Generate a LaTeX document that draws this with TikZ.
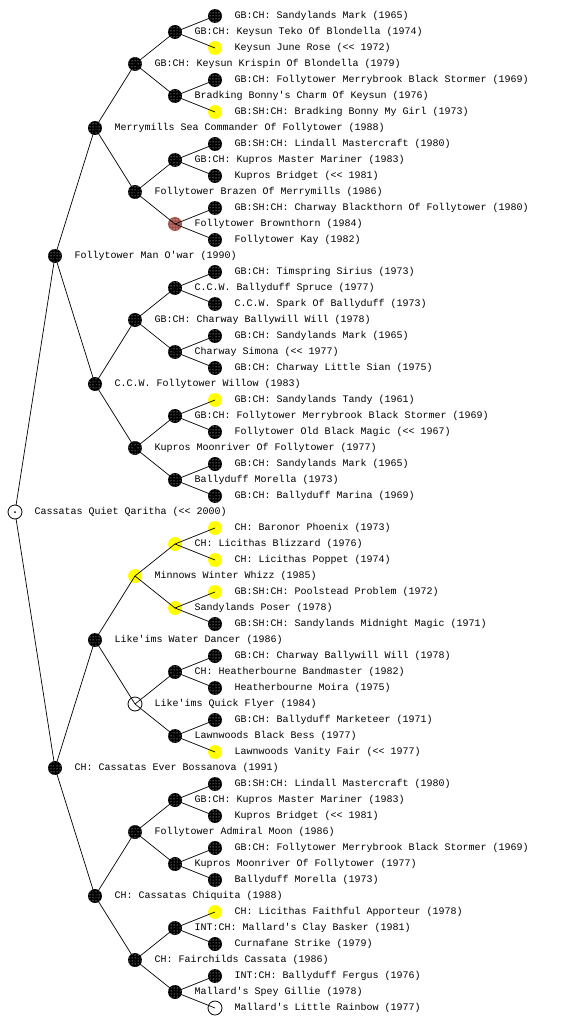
\documentclass[tikz,border=0pt]{standalone}
\usepackage{fontspec}
\setmonofont{Liberation Mono}
\usepackage{tikz}
\usetikzlibrary{positioning,patterns}
\definecolor{dogyellow}{RGB}{255,255,0}
\definecolor{dogbrown}{RGB}{165,82,76}

\begin{document}
\begin{tikzpicture}[x=1pt, y=-1pt, node distance=12.5pt,
	dog/.style={circle, inner sep=0pt, outer sep=0pt, minimum size=14pt},
	blk/.style={dog, fill=black, postaction={pattern=dots, pattern color=white}},
	ylw/.style={dog, fill=dogyellow},
	brn/.style={dog, fill=dogbrown, postaction={pattern=dots, pattern color=white}},
	wht/.style={dog, draw=black, fill=white, line width=0.8pt},
	txt/.style={inner sep=0pt, outer sep=0pt, font=\ttfamily\fontsize{10}{12}\selectfont},
	edge/.style={line width=0.7pt}
	]
	\useasboundingbox (0,0) rectangle (560,1024);

	% root
	\node[wht] (root) at (15,512) {};
	\node[txt, right=of root] (root-t) {Cassatas Quiet Qaritha (<< 2000)};
	\fill (root.center) circle (1pt);

	% sire side
	\node[blk] (sssss) at (215,16) {};   \node[txt, right=of sssss] (sssss-t) {GB:CH: Sandylands Mark (1965)};
	\node[blk] (ssss) at (175,32) {};    \node[txt, right=of ssss] (ssss-t) {GB:CH: Keysun Teko Of Blondella (1974)};
	\node[ylw] (ssssd) at (215,48) {};   \node[txt, right=of ssssd] (ssssd-t) {Keysun June Rose (<< 1972)};
	\node[blk] (sss) at (135,64) {};     \node[txt, right=of sss] (sss-t) {GB:CH: Keysun Krispin Of Blondella (1979)};
	\node[blk] (sssds) at (215,80) {};   \node[txt, right=of sssds] (sssds-t) {GB:CH: Follytower Merrybrook Black Stormer (1969)};
	\node[blk] (sssd) at (175,96) {};    \node[txt, right=of sssd] (sssd-t) {Bradking Bonny's Charm Of Keysun (1976)};
	\node[ylw] (sssdd) at (215,112) {};  \node[txt, right=of sssdd] (sssdd-t) {GB:SH:CH: Bradking Bonny My Girl (1973)};
	\node[blk] (ss) at (95,128) {};      \node[txt, right=of ss] (ss-t) {Merrymills Sea Commander Of Follytower (1988)};
	\node[blk] (ssdss) at (215,144) {};  \node[txt, right=of ssdss] (ssdss-t) {GB:SH:CH: Lindall Mastercraft (1980)};
	\node[blk] (ssds) at (175,160) {};   \node[txt, right=of ssds] (ssds-t) {GB:CH: Kupros Master Mariner (1983)};
	\node[blk] (ssdsd) at (215,176) {};  \node[txt, right=of ssdsd] (ssdsd-t) {Kupros Bridget (<< 1981)};
	\node[blk] (ssd) at (135,192) {};    \node[txt, right=of ssd] (ssd-t) {Follytower Brazen Of Merrymills (1986)};
	\node[blk] (ssdds) at (215,208) {};  \node[txt, right=of ssdds] (ssdds-t) {GB:SH:CH: Charway Blackthorn Of Follytower (1980)};
	\node[brn] (ssdd) at (175,224) {};   \node[txt, right=of ssdd] (ssdd-t) {Follytower Brownthorn (1984)};
	\node[blk] (ssddd) at (215,240) {};  \node[txt, right=of ssddd] (ssddd-t) {Follytower Kay (1982)};
	\node[blk] (s) at (55,256) {};       \node[txt, right=of s] (s-t) {Follytower Man O'war (1990)};
	\node[blk] (sdsss) at (215,272) {};  \node[txt, right=of sdsss] (sdsss-t) {GB:CH: Timspring Sirius (1973)};
	\node[blk] (sdss) at (175,288) {};   \node[txt, right=of sdss] (sdss-t) {C.C.W. Ballyduff Spruce (1977)};
	\node[blk] (sdssd) at (215,304) {};  \node[txt, right=of sdssd] (sdssd-t) {C.C.W. Spark Of Ballyduff (1973)};
	\node[blk] (sds) at (135,320) {};    \node[txt, right=of sds] (sds-t) {GB:CH: Charway Ballywill Will (1978)};
	\node[blk] (sdsds) at (215,336) {};  \node[txt, right=of sdsds] (sdsds-t) {GB:CH: Sandylands Mark (1965)};
	\node[blk] (sdsd) at (175,352) {};   \node[txt, right=of sdsd] (sdsd-t) {Charway Simona (<< 1977)};
	\node[blk] (sdsdd) at (215,368) {};  \node[txt, right=of sdsdd] (sdsdd-t) {GB:CH: Charway Little Sian (1975)};
	\node[blk] (sd) at (95,384) {};      \node[txt, right=of sd] (sd-t) {C.C.W. Follytower Willow (1983)};
	\node[ylw] (sddss) at (215,400) {};  \node[txt, right=of sddss] (sddss-t) {GB:CH: Sandylands Tandy (1961)};
	\node[blk] (sdds) at (175,416) {};   \node[txt, right=of sdds] (sdds-t) {GB:CH: Follytower Merrybrook Black Stormer (1969)};
	\node[blk] (sddsd) at (215,432) {};  \node[txt, right=of sddsd] (sddsd-t) {Follytower Old Black Magic (<< 1967)};
	\node[blk] (sdd) at (135,448) {};    \node[txt, right=of sdd] (sdd-t) {Kupros Moonriver Of Follytower (1977)};
	\node[blk] (sddds) at (215,464) {};  \node[txt, right=of sddds] (sddds-t) {GB:CH: Sandylands Mark (1965)};
	\node[blk] (sddd) at (175,480) {};   \node[txt, right=of sddd] (sddd-t) {Ballyduff Morella (1973)};
	\node[blk] (sdddd) at (215,496) {};  \node[txt, right=of sdddd] (sdddd-t) {GB:CH: Ballyduff Marina (1969)};

	% dam side
	\node[ylw] (dssss) at (215,528) {};  \node[txt, right=of dssss] (dssss-t) {CH: Baronor Phoenix (1973)};
	\node[ylw] (dsss) at (175,544) {};   \node[txt, right=of dsss] (dsss-t) {CH: Licithas Blizzard (1976)};
	\node[ylw] (dsssd) at (215,560) {};  \node[txt, right=of dsssd] (dsssd-t) {CH: Licithas Poppet (1974)};
	\node[ylw] (dss) at (135,576) {};    \node[txt, right=of dss] (dss-t) {Minnows Winter Whizz (1985)};
	\node[ylw] (dssds) at (215,592) {};  \node[txt, right=of dssds] (dssds-t) {GB:SH:CH: Poolstead Problem (1972)};
	\node[ylw] (dssd) at (175,608) {};   \node[txt, right=of dssd] (dssd-t) {Sandylands Poser (1978)};
	\node[blk] (dssdd) at (215,624) {};  \node[txt, right=of dssdd] (dssdd-t) {GB:SH:CH: Sandylands Midnight Magic (1971)};
	\node[blk] (ds) at (95,640) {};      \node[txt, right=of ds] (ds-t) {Like'ims Water Dancer (1986)};
	\node[blk] (dsdss) at (215,656) {};  \node[txt, right=of dsdss] (dsdss-t) {GB:CH: Charway Ballywill Will (1978)};
	\node[blk] (dsds) at (175,672) {};   \node[txt, right=of dsds] (dsds-t) {CH: Heatherbourne Bandmaster (1982)};
	\node[blk] (dsdsd) at (215,688) {};  \node[txt, right=of dsdsd] (dsdsd-t) {Heatherbourne Moira (1975)};
	\node[wht] (dsd) at (135,704) {};    \node[txt, right=of dsd] (dsd-t) {Like'ims Quick Flyer (1984)};
	\node[blk] (dsdds) at (215,720) {};  \node[txt, right=of dsdds] (dsdds-t) {GB:CH: Ballyduff Marketeer (1971)};
	\node[blk] (dsdd) at (175,736) {};   \node[txt, right=of dsdd] (dsdd-t) {Lawnwoods Black Bess (1977)};
	\node[ylw] (dsddd) at (215,752) {};  \node[txt, right=of dsddd] (dsddd-t) {Lawnwoods Vanity Fair (<< 1977)};
	\node[blk] (d) at (55,768) {};       \node[txt, right=of d] (d-t) {CH: Cassatas Ever Bossanova (1991)};
	\node[blk] (ddsss) at (215,784) {};  \node[txt, right=of ddsss] (ddsss-t) {GB:SH:CH: Lindall Mastercraft (1980)};
	\node[blk] (ddss) at (175,800) {};   \node[txt, right=of ddss] (ddss-t) {GB:CH: Kupros Master Mariner (1983)};
	\node[blk] (ddssd) at (215,816) {};  \node[txt, right=of ddssd] (ddssd-t) {Kupros Bridget (<< 1981)};
	\node[blk] (dds) at (135,832) {};    \node[txt, right=of dds] (dds-t) {Follytower Admiral Moon (1986)};
	\node[blk] (ddsds) at (215,848) {};  \node[txt, right=of ddsds] (ddsds-t) {GB:CH: Follytower Merrybrook Black Stormer (1969)};
	\node[blk] (ddsd) at (175,864) {};   \node[txt, right=of ddsd] (ddsd-t) {Kupros Moonriver Of Follytower (1977)};
	\node[blk] (ddsdd) at (215,880) {};  \node[txt, right=of ddsdd] (ddsdd-t) {Ballyduff Morella (1973)};
	\node[blk] (dd) at (95,896) {};      \node[txt, right=of dd] (dd-t) {CH: Cassatas Chiquita (1988)};
	\node[ylw] (dddss) at (215,912) {};  \node[txt, right=of dddss] (dddss-t) {CH: Licithas Faithful Apporteur (1978)};
	\node[blk] (ddds) at (175,928) {};   \node[txt, right=of ddds] (ddds-t) {INT:CH: Mallard's Clay Basker (1981)};
	\node[blk] (dddsd) at (215,944) {};  \node[txt, right=of dddsd] (dddsd-t) {Curnafane Strike (1979)};
	\node[blk] (ddd) at (135,960) {};    \node[txt, right=of ddd] (ddd-t) {CH: Fairchilds Cassata (1986)};
	\node[blk] (dddds) at (215,976) {};  \node[txt, right=of dddds] (dddds-t) {INT:CH: Ballyduff Fergus (1976)};
	\node[blk] (dddd) at (175,992) {};   \node[txt, right=of dddd] (dddd-t) {Mallard's Spey Gillie (1978)};
	\node[wht] (ddddd) at (215,1008) {}; \node[txt, right=of ddddd] (ddddd-t) {Mallard's Little Rainbow (1977)};

	% lines parent -> sire / dam
	\draw[edge] (root) -- (s.center) (root) -- (d.center);
	\draw[edge] (s.center) -- (ss.center) (s.center) -- (sd.center);
	\draw[edge] (d.center) -- (ds.center) (d.center) -- (dd.center);
	\draw[edge] (ss.center) -- (sss.center) (ss.center) -- (ssd.center);
	\draw[edge] (sd.center) -- (sds.center) (sd.center) -- (sdd.center);
	\draw[edge] (ds.center) -- (dss.center) (ds.center) -- (dsd.center);
	\draw[edge] (dd.center) -- (dds.center) (dd.center) -- (ddd.center);
	\draw[edge] (sss.center) -- (ssss.center) (sss.center) -- (sssd.center);
	\draw[edge] (ssd.center) -- (ssds.center) (ssd.center) -- (ssdd.center);
	\draw[edge] (sds.center) -- (sdss.center) (sds.center) -- (sdsd.center);
	\draw[edge] (sdd.center) -- (sdds.center) (sdd.center) -- (sddd.center);
	\draw[edge] (dss.center) -- (dsss.center) (dss.center) -- (dssd.center);
	\draw[edge] (dsd.center) -- (dsds.center) (dsd.center) -- (dsdd.center);
	\draw[edge] (dds.center) -- (ddss.center) (dds.center) -- (ddsd.center);
	\draw[edge] (ddd.center) -- (ddds.center) (ddd.center) -- (dddd.center);
	\draw[edge] (ssss.center) -- (sssss.center) (ssss.center) -- (ssssd.center);
	\draw[edge] (sssd.center) -- (sssds.center) (sssd.center) -- (sssdd.center);
	\draw[edge] (ssds.center) -- (ssdss.center) (ssds.center) -- (ssdsd.center);
	\draw[edge] (ssdd.center) -- (ssdds.center) (ssdd.center) -- (ssddd.center);
	\draw[edge] (sdss.center) -- (sdsss.center) (sdss.center) -- (sdssd.center);
	\draw[edge] (sdsd.center) -- (sdsds.center) (sdsd.center) -- (sdsdd.center);
	\draw[edge] (sdds.center) -- (sddss.center) (sdds.center) -- (sddsd.center);
	\draw[edge] (sddd.center) -- (sddds.center) (sddd.center) -- (sdddd.center);
	\draw[edge] (dsss.center) -- (dssss.center) (dsss.center) -- (dsssd.center);
	\draw[edge] (dssd.center) -- (dssds.center) (dssd.center) -- (dssdd.center);
	\draw[edge] (dsds.center) -- (dsdss.center) (dsds.center) -- (dsdsd.center);
	\draw[edge] (dsdd.center) -- (dsdds.center) (dsdd.center) -- (dsddd.center);
	\draw[edge] (ddss.center) -- (ddsss.center) (ddss.center) -- (ddssd.center);
	\draw[edge] (ddsd.center) -- (ddsds.center) (ddsd.center) -- (ddsdd.center);
	\draw[edge] (ddds.center) -- (dddss.center) (ddds.center) -- (dddsd.center);
	\draw[edge] (dddd.center) -- (dddds.center) (dddd.center) -- (ddddd.center);
\end{tikzpicture}
\end{document}
